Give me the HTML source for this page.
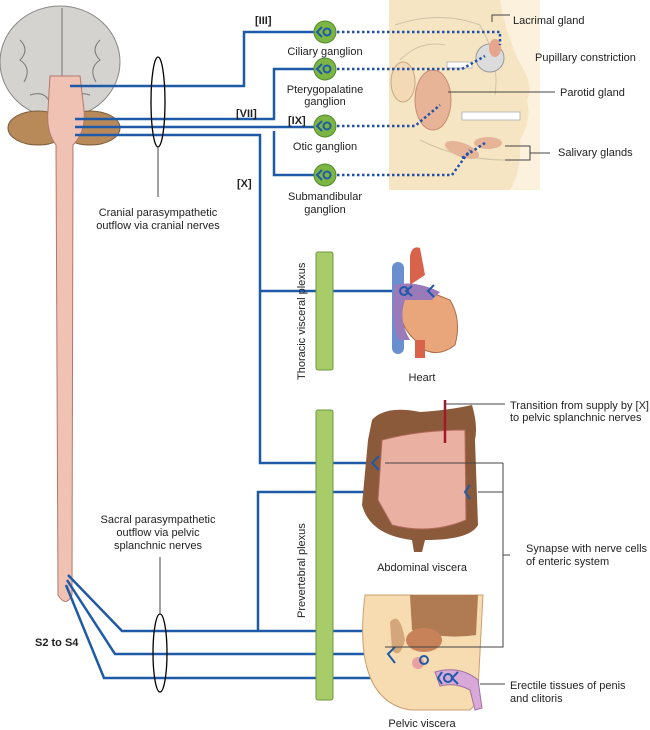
<!DOCTYPE html>
<html><head><meta charset="utf-8"><style>
body{margin:0;background:#fff}
svg{display:block}
text{font-family:"Liberation Sans",sans-serif;font-size:11px;fill:#222}
.b{font-weight:bold}
</style></head><body>
<svg width="650" height="730" viewBox="0 0 650 730">
<!-- face box -->
<rect x="389" y="0" width="151" height="190" fill="#f6e5c3"/>
<path d="M500 0 Q505 30 518 60 Q535 85 527 100 Q532 120 520 140 Q522 170 510 190 L540 190 L540 0Z" fill="#fbf1dc"/>
<path d="M395 25 Q440 10 480 25 Q500 60 495 95 M400 60 Q420 40 445 45 M420 140 Q460 160 505 160" stroke="#cfc4a8" fill="none"/>
<ellipse cx="403" cy="82" rx="12" ry="20" fill="#f3d9b5" stroke="#c9a880"/>
<ellipse cx="433" cy="100" rx="18" ry="30" fill="#e8b497" stroke="#c68c73"/>
<rect x="447" y="62" width="25" height="6" fill="#fff" stroke="#bbb"/>
<circle cx="490" cy="58" r="14" fill="#dcdcdc" stroke="#999"/>
<ellipse cx="495" cy="48" rx="6" ry="9" fill="#e6a58d"/>
<rect x="462" y="112" width="58" height="8" fill="#fff" stroke="#bbb"/>
<ellipse cx="462" cy="150" rx="18" ry="7" fill="#e6b497" transform="rotate(20 462 150)"/>
<ellipse cx="488" cy="143" rx="14" ry="6" fill="#e6b497"/>
<!-- dotted lines -->
<g stroke="#1f4fa8" stroke-width="2.5" stroke-dasharray="2.5 2.5" fill="none">
<path d="M337 32 H500 V45"/>
<path d="M337 69 H462 L485 56"/>
<path d="M337 126 H415 L440 105"/>
<path d="M337 175 H452 L470 150 M462 158 L485 143"/>
</g>
<!-- brain -->
<ellipse cx="60" cy="62" rx="60" ry="56" fill="#d5d3cf" stroke="#888"/>
<path d="M62 8 V115 M20 40 q10 10 0 20 q12 8 4 22 M100 40 q-10 10 0 20 q-12 8 -4 22 M30 95 q15 -5 20 8 M90 95 q-15 -5 -20 8" stroke="#777" fill="none"/>
<ellipse cx="38" cy="128" rx="30" ry="17" fill="#b88a5a" stroke="#7a5a38"/>
<ellipse cx="90" cy="128" rx="30" ry="17" fill="#b88a5a" stroke="#7a5a38"/>
<path d="M50 76 H80 L84 110 Q86 132 73 145 L72 595 Q66 608 58 595 L56 145 Q46 132 48 110Z" fill="#f0c2b4" stroke="#b5766a"/>
<!-- nerves -->
<g stroke="#1f5aa8" stroke-width="2.5" fill="none">
<path d="M70 86 H244 V32 H314"/>
<path d="M75 119 H274 V69 H314"/>
<path d="M274 131 V175 H314"/>
<path d="M75 127 H314"/>
<path d="M75 135 H260 V463 H372"/>
<path d="M260 291 H398"/>
<path d="M258 631 V492 H465"/>
<path d="M68 575 L122 631 H424 V655"/>
<path d="M67 580 L115 654 H388"/>
<path d="M66 585 L104 678 H445"/>
</g>
<!-- ganglia -->
<g fill="#7db544" stroke="#4f8a2a"><circle cx="325" cy="32" r="11"/><circle cx="325" cy="69" r="11"/><circle cx="325" cy="126" r="11"/><circle cx="325" cy="175" r="11"/></g>
<g stroke="#1f5aa8" stroke-width="2" fill="none"><circle cx="327" cy="32" r="3.5"/><circle cx="327" cy="69" r="3.5"/><circle cx="327" cy="126" r="3.5"/><circle cx="327" cy="175" r="3.5"/>
<path d="M322 27 L317 32 L322 37 M322 64 L317 69 L322 74 M322 121 L317 126 L322 131 M322 170 L317 175 L322 180"/></g>
<!-- plexus bars -->
<rect x="316" y="252" width="17" height="118" rx="2" fill="#a8cc6a" stroke="#6f9a3a"/>
<rect x="316" y="410" width="17" height="290" rx="2" fill="#a8cc6a" stroke="#6f9a3a"/>
<text transform="translate(305 380) rotate(-90)">Thoracic visceral plexus</text>
<text transform="translate(305 618) rotate(-90)">Prevertebral plexus</text>
<!-- heart -->
<rect x="392" y="262" width="12" height="92" rx="6" fill="#6a8fd0"/>
<path d="M410 256 Q412 245 420 248 L425 275 L410 285Z" fill="#d9634a"/>
<path d="M400 300 Q410 280 425 290 L450 300 Q462 320 455 345 Q440 357 425 350 L415 340 Q398 325 400 300Z" fill="#e8a67a" stroke="#b06a45"/>
<path d="M395 285 Q415 280 440 292 L432 300 L405 300 Q398 320 410 340 L398 340 Q390 315 395 285Z" fill="#9a7ab8"/>
<rect x="415" y="340" width="10" height="18" fill="#d9634a"/>
<!-- colon -->
<path d="M372 420 Q385 405 420 412 Q450 410 472 405 Q478 425 475 440 L478 525 Q470 540 425 540 L422 552 L414 552 L412 540 Q370 535 362 505 L368 440Z" fill="#8a5a3a"/>
<path d="M382 440 Q420 430 465 430 L466 520 Q430 535 392 525 L378 500Z" fill="#eab0a2" stroke="#b06a5a"/>
<line x1="445" y1="400" x2="445" y2="443" stroke="#a0182a" stroke-width="2.5"/>
<!-- pelvis -->
<path d="M365 595 Q352 700 410 710 L470 710 Q480 700 478 690 L483 595Z" fill="#f6dcb0" stroke="#c9a070"/>
<path d="M410 595 L478 595 L476 635 Q445 640 412 630Z" fill="#b07a52"/>
<path d="M390 622 Q400 610 405 640 Q400 660 392 650Z" fill="#d4a77a"/>
<ellipse cx="424" cy="640" rx="18" ry="12" fill="#c8825a"/>
<circle cx="418" cy="663" r="6" fill="#e8a0a0"/>
<path d="M435 672 Q460 665 478 680 L482 708 L475 710 L470 690 Q455 682 440 686Z" fill="#d8a8d8" stroke="#a070a0"/>
<!-- synapse marks -->
<g stroke="#1f5aa8" stroke-width="2" fill="none">
<path d="M379 456 L372 463 L379 470"/><path d="M470 485 L465 492 L470 499"/>
<path d="M395 647 L388 654 L395 663"/><circle cx="424" cy="660" r="4"/><circle cx="448" cy="678" r="4"/>
<path d="M412 286 L406 291 L412 296"/><circle cx="404" cy="291" r="4"/>
<path d="M434 285 L428 291 L434 297"/><path d="M442 672 L438 678 L442 684 M458 672 L452 678 L458 684"/>
</g>
<!-- ellipses -->
<ellipse cx="158" cy="102" rx="7" ry="45" fill="none" stroke="#000" stroke-width="1.3"/>
<line x1="158" y1="147" x2="158" y2="197" stroke="#444"/>
<ellipse cx="160" cy="653" rx="7" ry="39" fill="none" stroke="#000" stroke-width="1.3"/>
<line x1="160" y1="557" x2="160" y2="614" stroke="#444"/>
<!-- leader lines -->
<g stroke="#444" fill="none">
<path d="M492 22 V15 H510"/><path d="M448 92 H555"/>
<path d="M505 146 H530 V160 H505 M530 153 H550"/>
<path d="M445 404 H505"/>
<path d="M385 463 H503 M478 492 H503 M503 463 V647 H385 M503 555 H510"/>
<path d="M480 684 H505"/>
</g>
<!-- labels -->
<text x="513" y="24">Lacrimal gland</text>
<text x="535" y="61">Pupillary constriction</text>
<text x="560" y="96">Parotid gland</text>
<text x="558" y="156">Salivary glands</text>
<text x="255" y="24" class="b">[III]</text>
<text x="236" y="117" class="b">[VII]</text>
<text x="288" y="124" class="b">[IX]</text>
<text x="237" y="187" class="b">[X]</text>
<text x="325" y="55" text-anchor="middle">Ciliary ganglion</text>
<text x="325" y="93" text-anchor="middle">Pterygopalatine</text>
<text x="325" y="105" text-anchor="middle">ganglion</text>
<text x="325" y="150" text-anchor="middle">Otic ganglion</text>
<text x="325" y="200" text-anchor="middle">Submandibular</text>
<text x="325" y="213" text-anchor="middle">ganglion</text>
<text x="158" y="216" text-anchor="middle">Cranial parasympathetic</text>
<text x="158" y="229" text-anchor="middle">outflow via cranial nerves</text>
<text x="422" y="381" text-anchor="middle">Heart</text>
<text x="510" y="409">Transition from supply by [X]</text>
<text x="510" y="421">to pelvic splanchnic nerves</text>
<text x="422" y="571" text-anchor="middle">Abdominal viscera</text>
<text x="526" y="552">Synapse with nerve cells</text>
<text x="526" y="565">of enteric system</text>
<text x="158" y="523" text-anchor="middle">Sacral parasympathetic</text>
<text x="158" y="536" text-anchor="middle">outflow via pelvic</text>
<text x="158" y="549" text-anchor="middle">splanchnic nerves</text>
<text x="35" y="646" class="b">S2 to S4</text>
<text x="510" y="689">Erectile tissues of penis</text>
<text x="510" y="702">and clitoris</text>
<text x="422" y="727" text-anchor="middle">Pelvic viscera</text>
</svg>
</body></html>
